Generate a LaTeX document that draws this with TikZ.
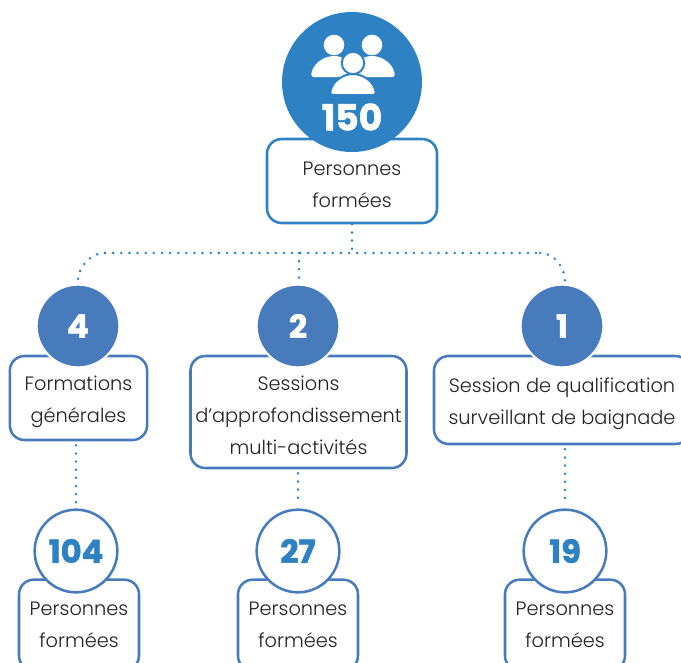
\documentclass[tikz,border=0pt]{standalone}
\usepackage{fontspec}
\setmainfont{Poppins}[UprightFont=* Light,BoldFont=* Bold,BoldFeatures={FakeBold=1.6}]
\usepackage{xcolor}
\definecolor{topblue}{HTML}{2E82C3}
\definecolor{midblue}{HTML}{487BBB}
\definecolor{inktext}{HTML}{222222}
\tikzset{
 box/.style={draw=midblue, line width=1.9pt, rounded corners=11pt, fill=white, text=inktext, inner sep=0pt, align=center, font=\fontsize{14.5}{24}\selectfont},
 topbox/.style={box, draw=topblue},
 disc/.style={circle, fill=midblue, draw=white, line width=1.5pt, minimum size=62pt, inner sep=0pt, text=white, font=\fontsize{24}{26}\selectfont\bfseries},
 ring/.style={circle, fill=white, draw=midblue, line width=1.9pt, minimum size=62pt, inner sep=0pt, text=topblue, font=\fontsize{24}{26}\selectfont\bfseries},
 dots/.style={topblue, line width=2.1pt, line cap=round, dash pattern=on 0pt off 6.1pt},
}
\newcommand{\upstrut}{\rule{0pt}{16.5pt}}
\newcommand{\personbody}{(-20,21) .. controls (-23,21) and (-23,18) .. (-22,15) .. controls (-19,6) and (-9,0) .. (0,0) .. controls (9,0) and (19,6) .. (22,15) .. controls (23,18) and (23,21) .. (20,21) -- cycle}
\begin{document}
\begin{tikzpicture}[x=.75pt,y=-.75pt]
\useasboundingbox (0,0) rectangle (681,662);
\coordinate (busL) at (105,253);
\coordinate (busR) at (540,253);
\coordinate (busM) at (352,253);
\coordinate (busC) at (299,253);
% boxes
\node[topbox, minimum width=127.5pt, minimum height=63pt] (persTop) at (352,181) {\upstrut Personnes\\formées};
\node[box, minimum width=103pt, minimum height=63pt] (boxA) at (78.5,398) {\upstrut Formations\\générales};
\node[box, minimum width=162pt, minimum height=84pt] (boxB) at (298.5,412) {\upstrut Sessions\\d’approfondissement\\multi-activités};
\node[box, minimum width=192pt, minimum height=66pt] (boxC) at (562,400) {\upstrut Session de qualification\\surveillant de baignade};
\node[box, minimum width=90pt, minimum height=68pt] (persA) at (79,625) {Personnes\\formées};
\node[box, minimum width=90pt, minimum height=68pt] (persB) at (298,625) {Personnes\\formées};
\node[box, minimum width=90pt, minimum height=68pt] (persC) at (565,625) {Personnes\\formées};
% dotted links
\draw[dots] (persTop.south) -- (busM);
\draw[dots] (busL) -- (busR);
\draw[dots, shorten >=4pt] (busL) to[out=180,in=90] (78,286);
\draw[dots, shorten >=4pt] (busR) to[out=0,in=90] (565,286);
\draw[dots, shorten >=4pt] (busC) -- (299,286);
% numbers
\node[disc, draw=none, fill=topblue, minimum size=105pt] (discTop) at (352,82) {};
\node[disc] (discA) at (78,326) {4};
\node[disc] (discB) at (298,326) {2};
\node[disc] (discC) at (562,326) {1};
\node[ring] (ringA) at (76,551) {104};
\node[ring] (ringB) at (298,551) {27};
\node[ring] (ringC) at (565,551) {19};
\node[text=white, font=\fontsize{27}{28}\selectfont\bfseries] (numTop) at (352,117) {150};
\draw[dots, shorten >=3pt, shorten <=3pt] (boxA.south -| ringA) -- (ringA);
\draw[dots, shorten >=3pt, shorten <=3pt] (boxB.south -| ringB) -- (ringB);
\draw[dots, shorten >=3pt, shorten <=3pt] (boxC.south -| ringC) -- (ringC);
% people
\foreach \px in {334,372}{
\fill[white, shift={(\px,56)}] \personbody;
\fill[white] (\px,45) circle(7.7pt);
}
\filldraw[white, draw=topblue, line width=1.5pt, shift={(353,74)}] \personbody;
\filldraw[white, draw=topblue, line width=1.5pt] (353,63) circle(8.4pt);
\end{tikzpicture}
\end{document}
